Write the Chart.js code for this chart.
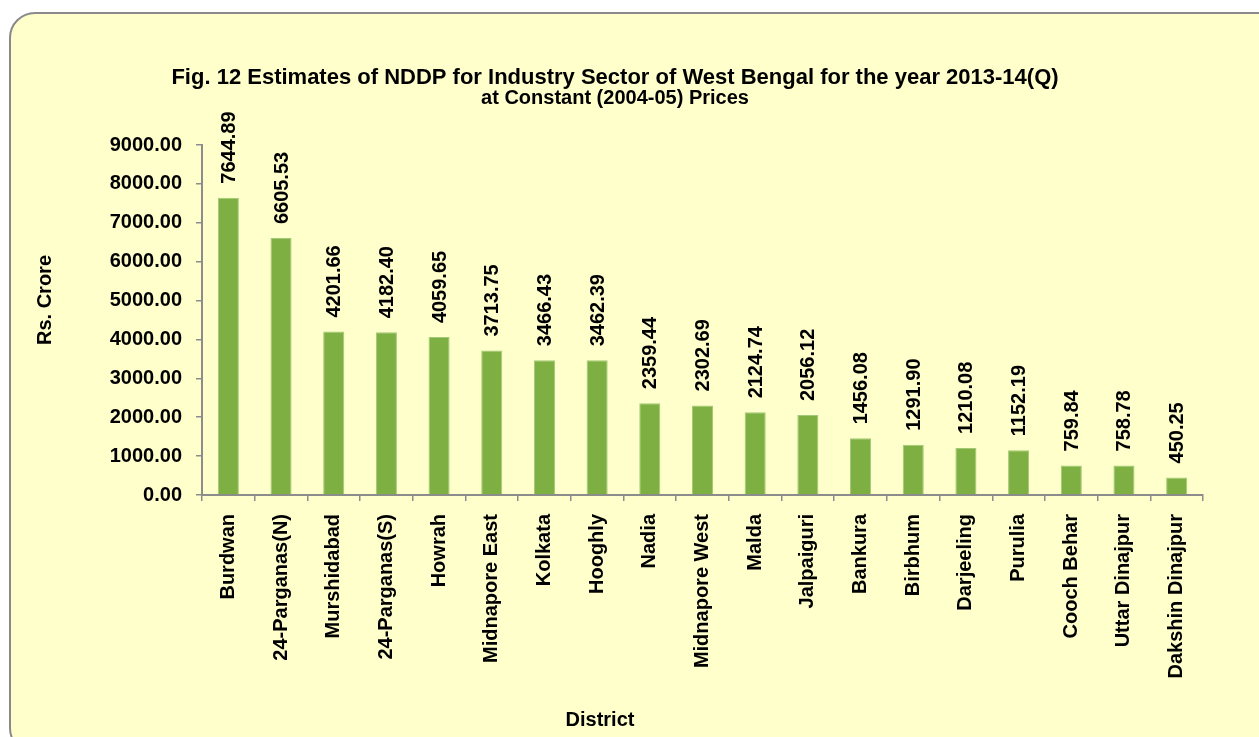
<!DOCTYPE html>
<html>
<head>
<meta charset="utf-8">
<script src="https://cdn.jsdelivr.net/npm/chart.js@4/dist/chart.umd.min.js"></script>
<style>
    html, body { margin: 0; padding: 0; background: #ffffff; }
    #wrap { width: 1259px; height: 737px; }
</style>
</head>
<body>
<div id="wrap"><canvas id="ndChart" width="1259" height="737"></canvas></div>
<script>
// Chart data
const districts = ['Burdwan', '24-Parganas(N)', 'Murshidabad', '24-Parganas(S)', 'Howrah',
    'Midnapore East', 'Kolkata', 'Hooghly', 'Nadia', 'Midnapore West', 'Malda', 'Jalpaiguri',
    'Bankura', 'Birbhum', 'Darjeeling', 'Purulia', 'Cooch Behar', 'Uttar Dinajpur', 'Dakshin Dinajpur'];
const nddpValues = [7644.89, 6605.53, 4201.66, 4182.40, 4059.65, 3713.75, 3466.43, 3462.39,
    2359.44, 2302.69, 2124.74, 2056.12, 1456.08, 1291.90, 1210.08, 1152.19, 759.84, 758.78, 450.25];
const yTicks = [0, 1000, 2000, 3000, 4000, 5000, 6000, 7000, 8000, 9000];
const titleLines = ['Fig. 12 Estimates of NDDP for Industry Sector of West Bengal for the year 2013-14(Q)',
    'at Constant (2004-05) Prices'];
const xTitle = 'District';
const yTitle = 'Rs. Crore';

const FONT = '"Liberation Sans", Arial, sans-serif';
const AXIS_GREY = '#8c8c8c';

// Rounded panel behind the chart
const panelPlugin = {
    id: 'panel',
    beforeDraw(chart) {
        const ctx = chart.ctx;
        ctx.save();
        ctx.beginPath();
        ctx.roundRect(10, 13, 1275, 740, 25);
        ctx.fillStyle = '#ffffcc';
        ctx.fill();
        ctx.lineWidth = 2;
        ctx.strokeStyle = '#8a8a8a';
        ctx.stroke();
        ctx.restore();
    }
};

// Titles drawn at their positions in the figure
const titlesPlugin = {
    id: 'titles',
    afterDraw(chart) {
        const ctx = chart.ctx;
        ctx.save();
        ctx.fillStyle = '#000';
        ctx.textAlign = 'center';
        ctx.textBaseline = 'middle';
        ctx.font = 'bold 22px ' + FONT;
        ctx.fillText(titleLines[0], 615, 78);
        ctx.font = 'bold 20px ' + FONT;
        ctx.fillText(titleLines[1], 615, 98);
        ctx.fillText(xTitle, 600, 720);
        ctx.translate(45, 300);
        ctx.rotate(-Math.PI / 2);
        ctx.fillText(yTitle, 0, 0);
        ctx.restore();
    }
};

// Value labels above each bar, rotated
const valueLabels = {
    id: 'valueLabels',
    afterDatasetsDraw(chart) {
        const ctx = chart.ctx;
        const meta = chart.getDatasetMeta(0);
        ctx.save();
        ctx.fillStyle = '#000';
        ctx.font = 'bold 20px ' + FONT;
        ctx.textAlign = 'left';
        ctx.textBaseline = 'middle';
        meta.data.forEach((bar, i) => {
            ctx.save();
            ctx.translate(bar.x + 1, bar.y - 14);
            ctx.rotate(-Math.PI / 2);
            ctx.fillText(nddpValues[i].toFixed(2), 0, 0);
            ctx.restore();
        });
        ctx.restore();
    }
};

const ctx = document.getElementById('ndChart').getContext('2d');
new Chart(ctx, {
    type: 'bar',
    data: {
        labels: districts,
        datasets: [{
            data: nddpValues,
            backgroundColor: '#7daf42',
            borderColor: '#a3c977',
            borderWidth: 1,
            barPercentage: 0.4,
            categoryPercentage: 1.0
        }]
    },
    options: {
        responsive: false,
        animation: false,
        layout: {
            padding: { left: 0, right: 56, top: 145, bottom: 0 }
        },
        plugins: {
            legend: { display: false },
            tooltip: { enabled: false },
            title: { display: false }
        },
        scales: {
            x: {
                offset: true,
                grid: {
                    offset: true,
                    drawOnChartArea: false,
                    drawTicks: true,
                    tickLength: 6,
                    color: AXIS_GREY,
                    lineWidth: 1.5
                },
                border: { color: AXIS_GREY, width: 2 },
                ticks: {
                    color: '#000',
                    font: { family: FONT, size: 20, weight: 'bold' },
                    minRotation: 90,
                    maxRotation: 90,
                    autoSkip: false,
                    padding: 13
                },
                afterFit(scale) { scale.height = 242; }
            },
            y: {
                min: 0,
                max: 9000,
                afterBuildTicks(scale) {
                    scale.ticks = yTicks.map(v => ({ value: v }));
                },
                grid: {
                    drawOnChartArea: false,
                    drawTicks: true,
                    tickLength: 6,
                    color: AXIS_GREY,
                    lineWidth: 1.5
                },
                border: { color: AXIS_GREY, width: 2 },
                ticks: {
                    color: '#000',
                    font: { family: FONT, size: 20, weight: 'bold' },
                    padding: 14,
                    callback: v => Number(v).toFixed(2)
                },
                afterFit(scale) { scale.width = 202; }
            }
        }
    },
    plugins: [panelPlugin, valueLabels, titlesPlugin]
});
</script>
</body>
</html>
